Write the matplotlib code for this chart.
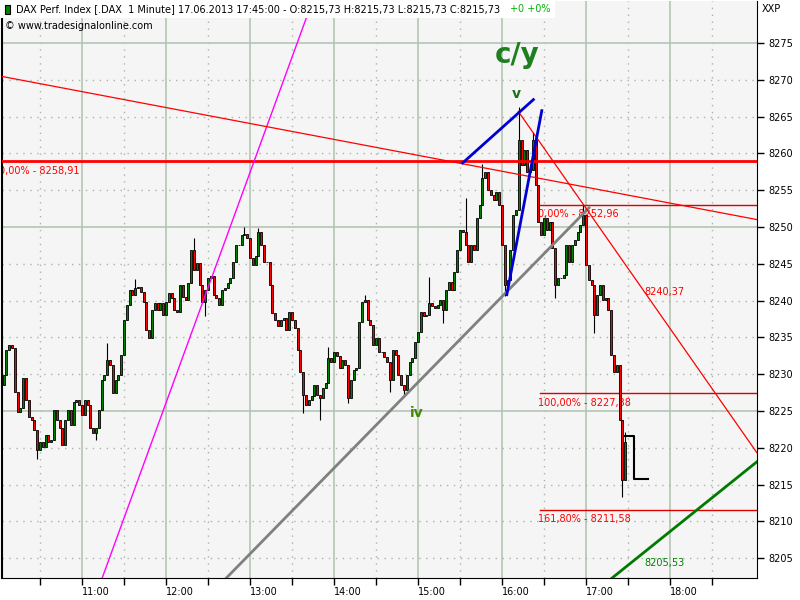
import numpy as np
import matplotlib
matplotlib.use('Agg')
import matplotlib.pyplot as plt
from matplotlib.patches import Rectangle

plt.rcParams['font.family'] = ['DejaVu Sans']

# 2-minute candles of DAX, 17.06.2013, starting 10:02
start_min = 10 * 60 + 2
bar_minutes = 2
first_open = 8233.3
closes = [
    8228.5, 8229.9, 8233.3, 8234.0, 8233.6, 8227.6, 8224.9, 8225.4, 8229.5, 8226.5,
    8224.2, 8223.8, 8222.4, 8219.7, 8220.8, 8220.1, 8221.7, 8220.8, 8221.1, 8225.1,
    8223.8, 8222.7, 8220.4, 8223.8, 8225.1, 8223.1, 8226.2, 8226.5, 8225.8, 8224.5,
    8226.5, 8225.8, 8222.7, 8222.0, 8222.7, 8225.1, 8229.2, 8229.9, 8231.9, 8231.3,
    8227.4, 8229.2, 8229.9, 8232.6, 8237.4, 8239.4, 8241.4, 8240.8, 8241.7, 8241.8,
    8241.2, 8239.8, 8236.0, 8234.9, 8238.7, 8239.7, 8238.7, 8239.7, 8238.0, 8239.8,
    8241.0, 8240.4, 8238.7, 8238.5, 8242.1, 8240.5, 8240.1, 8242.4, 8246.9, 8244.2,
    8245.1, 8242.1, 8239.8, 8241.4, 8243.1, 8243.3, 8240.8, 8240.4, 8239.4, 8241.4,
    8241.7, 8242.4, 8243.1, 8245.2, 8247.6, 8247.6, 8248.9, 8249.1, 8248.5, 8245.8,
    8244.8, 8246.1, 8249.3, 8247.6, 8245.2, 8245.2, 8242.1, 8238.3, 8237.4, 8236.5,
    8237.4, 8237.6, 8236.0, 8238.5, 8237.4, 8236.3, 8233.3, 8230.3, 8227.2, 8225.8,
    8226.5, 8227.0, 8228.5, 8227.2, 8226.8, 8228.1, 8228.8, 8232.2, 8231.7, 8233.0,
    8232.5, 8230.8, 8231.9, 8231.3, 8226.8, 8229.2, 8230.6, 8230.8, 8237.1, 8239.8,
    8240.1, 8237.4, 8236.7, 8234.0, 8234.9, 8233.0, 8233.0, 8232.3, 8231.7, 8229.2,
    8233.3, 8232.6, 8229.9, 8228.5, 8227.9, 8229.9, 8231.7, 8232.2, 8234.4, 8235.7,
    8238.4, 8237.9, 8238.0, 8239.7, 8239.3, 8239.0, 8239.4, 8240.1, 8238.7, 8241.4,
    8242.5, 8241.4, 8243.9, 8246.9, 8249.6, 8249.3, 8247.6, 8245.2, 8247.6, 8246.9,
    8251.2, 8253.0, 8256.7, 8257.5, 8255.0, 8254.3, 8253.7, 8254.8, 8253.0, 8247.6,
    8242.1, 8242.8, 8246.9, 8251.6, 8252.3, 8261.8, 8258.4, 8260.5, 8257.5, 8257.7,
    8261.8, 8255.7, 8250.7, 8248.9, 8251.2, 8249.6, 8250.7, 8247.1, 8242.1, 8243.1,
    8243.1, 8243.5, 8247.6, 8245.2, 8247.6, 8248.2, 8249.3, 8250.3, 8251.6, 8244.8,
    8242.8, 8242.1, 8238.0, 8240.8, 8242.1, 8240.1, 8240.4, 8238.7, 8232.6, 8230.3,
    8231.3, 8223.8, 8215.6, 8220.8,
]
# wicks that stick out of the bodies (candle index -> price)
wick_highs = {0: 8234.2, 38: 8234.2, 48: 8242.9, 69: 8248.5, 87: 8250.0, 92: 8249.9,
              117: 8233.7, 130: 8240.8, 153: 8243.2, 166: 8254.0, 172: 8258.5,
              185: 8266.3, 190: 8262.9, 208: 8252.96, 223: 8222.2}
wick_lows = {13: 8218.5, 34: 8221.0, 73: 8237.9, 108: 8224.7, 114: 8223.8, 124: 8226.1,
             139: 8227.6, 144: 8227.2, 158: 8237.0, 180: 8240.6, 198: 8240.4,
             212: 8235.6, 222: 8213.3}

# closing step (17:28 -> 17:34 -> 17:44)
close_step_t = [17 * 60 + 28, 17 * 60 + 34, 17 * 60 + 44]
close_step_p = [8221.6, 8215.73, 8215.73]

# fibonacci levels
fib_left = 8258.91
fib_right = [8252.96, 8227.38, 8211.58]
fib_right_labels = ['0,00% - 8252,96', '100,00% - 8227,38', '161,80% - 8211,58']
fib_right_start = 987

# drawn trend lines (minute of day, price)
magenta_pts = [(718.1, 8225.1), (772.9, 8253.7)]
gray_pts = [(763.1, 8202.3), (1022.1, 8252.6)]
red_long_pts = [(601.4, 8270.5), (1142.1, 8251.0)]
red_down_pts = [(971.6, 8265.7), (1142.1, 8219.3)]
green_pts = [(1038.6, 8202.3), (1142.1, 8218.1)]
blue1_pts = [(931.9, 8258.7), (982.4, 8267.3)]
blue2_pts = [(963.4, 8240.8), (988.4, 8265.8)]

yticks = list(range(8205, 8280, 5))
hours = list(range(11, 19))

closes = np.array(closes)
times = start_min + bar_minutes * np.arange(len(closes))
opens = np.concatenate([[first_open], closes[:-1]])
highs = np.maximum(opens, closes)
lows = np.minimum(opens, closes)
for i, v in wick_highs.items():
    highs[i] = max(highs[i], v)
for i, v in wick_lows.items():
    lows[i] = min(lows[i], v)
colors = np.where(closes >= opens, '#008000', '#ff0000')

fig = plt.figure(figsize=(8, 6), dpi=100)
ax = fig.add_axes([2 / 800, 22 / 600, 755 / 800, 577 / 600])
ax.set_facecolor('#f5f5f5')
ax.set_xlim(602.86, 1142.1)
ax.set_ylim(8202.3, 8280.7)

# grid
for m in range(630, 1140, 30):
    if m % 60 == 0:
        ax.axvline(m, color='#b4c6b4', lw=1.2, zorder=0)
    else:
        ax.axvline(m, color='#a8b4a8', lw=1, ls=(0, (1, 4)), zorder=0)
for p in yticks:
    if p % 25 == 0:
        ax.axhline(p, color='#b4c6b4', lw=1.2, zorder=0)
    else:
        ax.axhline(p, color='#a8b4a8', lw=1, ls=(0, (1, 4)), zorder=0)

# fib labels sit under the candles
fs = 7
ax.axhline(fib_left, color='#ff0000', lw=2, zorder=4)
ax.annotate('0,00% - 8258,91', xy=(600.7, fib_left), xytext=(0, -3),
            textcoords='offset points', va='top', ha='left', color='#ff0000',
            fontsize=fs, zorder=2, annotation_clip=False, clip_on=True)
for p, lab in zip(fib_right, fib_right_labels):
    ax.plot([fib_right_start, 1150], [p, p], color='#e00000', lw=1, zorder=2)
    ax.annotate(lab, xy=(fib_right_start - 1, p), xytext=(0, -3),
                textcoords='offset points', va='top', ha='left', color='#ff0000',
                fontsize=fs, zorder=2)

# candles
ax.vlines(times, lows, highs, color='black', lw=0.8, zorder=2.8)
ax.bar(times, closes - opens, bottom=opens, width=1.5, color=colors,
       edgecolor='black', linewidth=0.6, zorder=3)
ax.plot(close_step_t, close_step_p, color='black', lw=1.5, drawstyle='steps-post', zorder=3)

# trend lines
ax.axline(*magenta_pts, color='#ff00ff', lw=1, zorder=4)
ax.plot(*zip(*gray_pts), color='#808080', lw=2, zorder=4)
ax.axline(*red_long_pts, color='#ff0000', lw=0.9, zorder=4)
ax.plot(*zip(*red_down_pts), color='#ff0000', lw=0.9, zorder=4)
ax.axline(*green_pts, color='#007a00', lw=2, zorder=4)
ax.plot(*zip(*blue1_pts), color='#0000d0', lw=2, zorder=4)
ax.plot(*zip(*blue2_pts), color='#0000d0', lw=2, zorder=4)
ax.text(1062, 8241.2, '8240,37', color='#ff0000', fontsize=fs, va='center', ha='left', zorder=5)
ax.text(1062, 8204.4, '8205,53', color='#008000', fontsize=fs, va='center', ha='left', zorder=5)

# wave labels
ax.text(970.7, 8273.4, 'c/y', color='#1f7f1f', fontsize=20, fontweight='bold',
        ha='center', va='center', zorder=6)
ax.text(970.0, 8268.1, 'v', color='#1f6f1f', fontsize=10, fontweight='bold',
        ha='center', va='center', zorder=6)
ax.text(899.3, 8224.7, 'iv', color='#3f8a00', fontsize=10, fontweight='bold',
        ha='center', va='center', zorder=6)

# axes
for s in ['top', 'left']:
    ax.spines[s].set_visible(s == 'left')
ax.spines['left'].set_linewidth(1.5)
ax.yaxis.tick_right()
ax.set_yticks(yticks)
ax.set_yticklabels([str(p) for p in yticks])
ax.set_xticks([h * 60 for h in hours])
ax.set_xticklabels(['%d:00' % h for h in hours])
ax.set_xticks(list(range(630, 1140, 60)), minor=True)
for lab in ax.get_xticklabels():
    lab.set_ha('left')
ax.tick_params(axis='both', which='both', length=5, width=1, labelsize=fs, colors='black')
ax.tick_params(axis='x', pad=1.5)
ax.tick_params(axis='y', pad=3)

# header
fig.patches.append(Rectangle((0, 582 / 600), 555 / 800, 18 / 600, transform=fig.transFigure,
                             facecolor='white', edgecolor='none', zorder=5))
fig.patches.append(Rectangle((5 / 800, 586 / 600), 5 / 800, 9 / 600, transform=fig.transFigure,
                             facecolor='#008000', edgecolor='black', lw=0.8, zorder=6))
fig.text(16 / 800, 1 - 9 / 600,
         'DAX Perf. Index [.DAX  1 Minute] 17.06.2013 17:45:00 - O:8215,73 H:8215,73 L:8215,73 C:8215,73',
         fontsize=fs, va='center', ha='left', zorder=7)
fig.text(510 / 800, 1 - 9 / 600, '+0 +0%', color='#00b000', fontsize=fs, va='center', ha='left', zorder=7)
fig.text(5 / 800, 1 - 26 / 600, '© www.tradesignalonline.com', fontsize=fs, va='center', ha='left', zorder=7)
fig.text(762 / 800, 1 - 9 / 600, 'XXP', fontsize=fs, va='center', ha='left')

fig.savefig('out.png', dpi=100)
